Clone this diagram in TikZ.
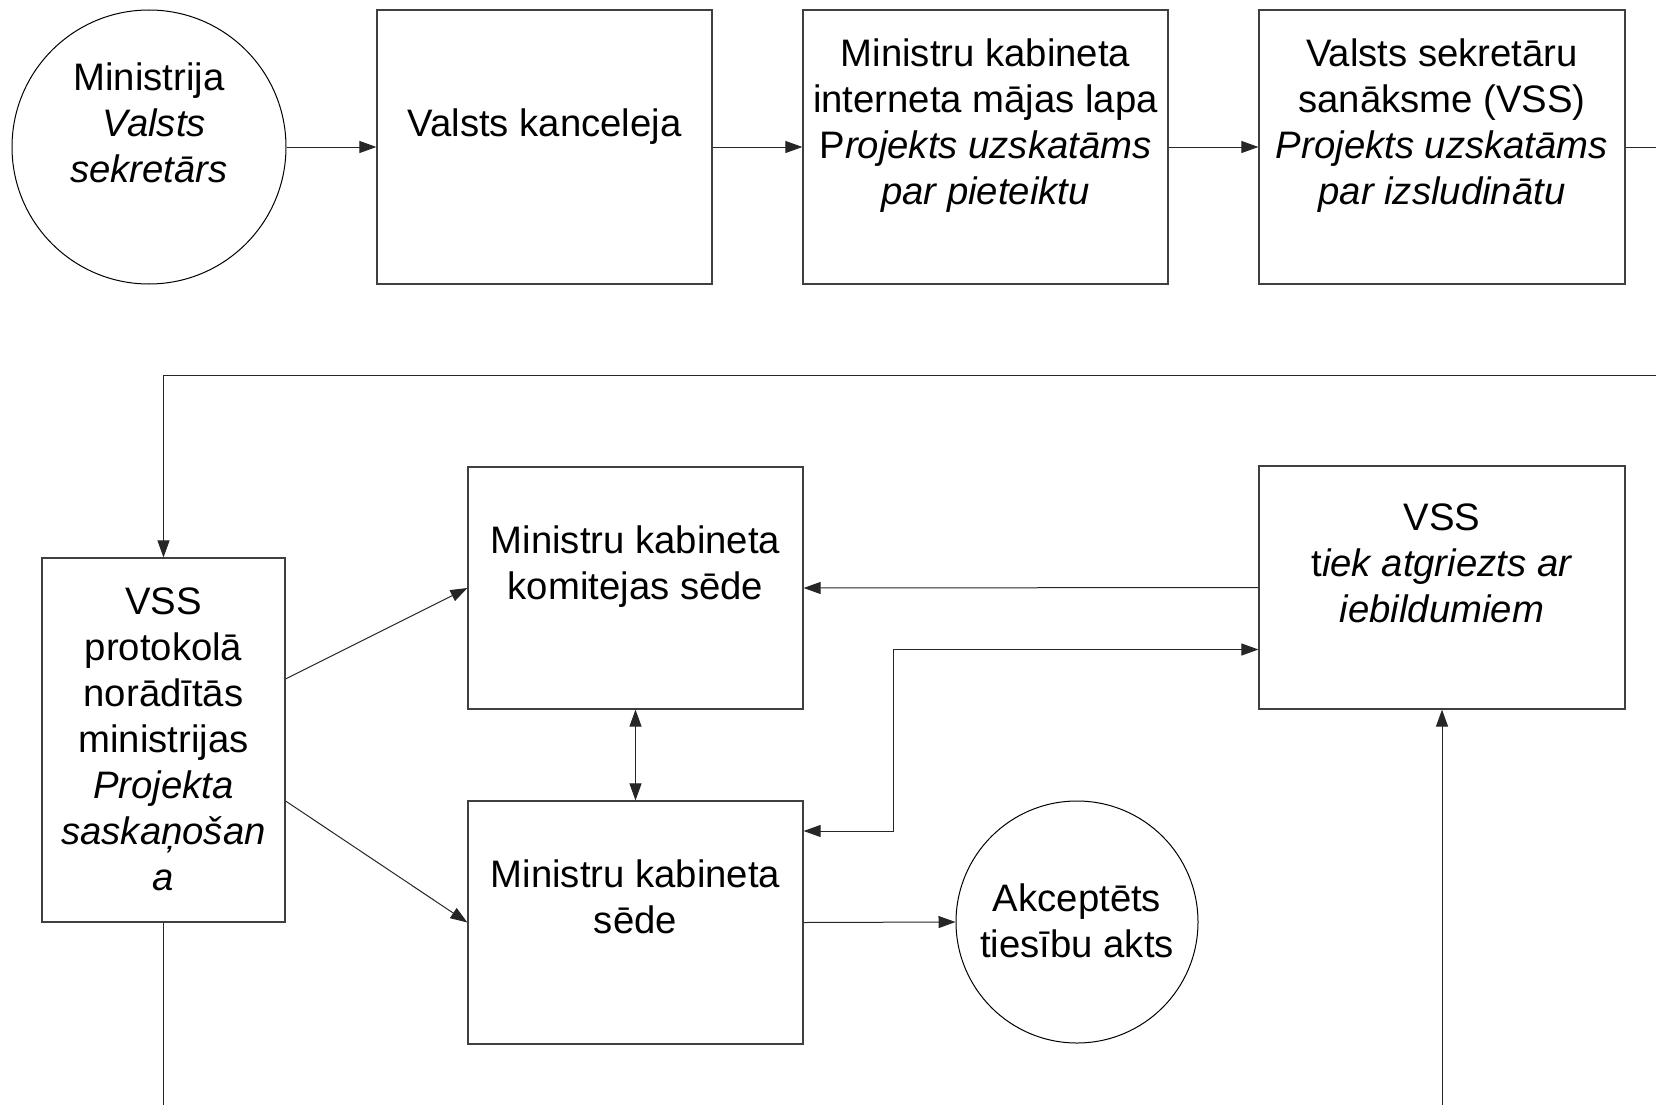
\documentclass[tikz,border=0pt]{standalone}
\usepackage{fontspec}
\setmainfont{Liberation Sans}
\usetikzlibrary{arrows.meta,calc}
\begin{document}
\begin{tikzpicture}[x=1pt,y=-1pt,
  boxnode/.style={draw=black!75, line width=1.2pt, rectangle, inner sep=0pt},
  circnode/.style={draw=black, line width=1pt, circle, inner sep=0pt},
  txt/.style={align=center, font=\fontsize{38.3}{46}\selectfont, inner sep=0pt},
  conn/.style={draw=black!85, line width=1pt},
  arr/.style={conn, -{Triangle[length=17pt,width=12pt]}},
  darr/.style={conn, {Triangle[length=17pt,width=12pt]}-{Triangle[length=17pt,width=12pt]}},
]
\useasboundingbox (0,0) rectangle (1656,1105);
\fill[white] (0,0) rectangle (1656,1105);

% shapes
\node[circnode, minimum size=274pt] (c1) at (149,147) {};
\node[boxnode, minimum width=335pt, minimum height=274pt] (b2) at (544.5,147) {};
\node[boxnode, minimum width=365pt, minimum height=274pt] (b3) at (985.5,147) {};
\node[boxnode, minimum width=366pt, minimum height=274pt] (b4) at (1442,147) {};
\node[boxnode, minimum width=243pt, minimum height=364pt] (b5) at (163.5,740) {};
\node[boxnode, minimum width=335pt, minimum height=242pt] (b6) at (635.5,588) {};
\node[boxnode, minimum width=335pt, minimum height=243pt] (b7) at (635.5,922.5) {};
\node[circnode, minimum size=242pt] (c8) at (1077,922) {};
\node[boxnode, minimum width=366pt, minimum height=243pt] (b9) at (1442,587.5) {};

% texts
\node[txt] (t1) at ([yshift=24.5pt]c1.center) {Ministrija\\\hspace*{0.28em}\textit{Valsts}\\\textit{sekretārs}};
\node[txt] (t2) at ([yshift=20pt]b2.center) {Valsts kanceleja};
\node[txt] (t3) at ([yshift=21pt]b3.center) {Ministru kabineta\\interneta mājas lapa\\P\textit{rojekts uzskatāms}\\\textit{par pieteiktu}};
\node[txt] (t4) at ([yshift=21pt]b4.center) {Valsts sekretāru\\sanāksme (VSS)\\\textit{Projekts uzskatāms}\\\textit{par izsludinātu}};
\node[txt] (t5) at ([yshift=1pt]b5.center) {VSS\\protokolā\\norādītās\\ministrijas\\\textit{Projekta}\\\textit{saskaņošan}\\\textit{a}};
\node[txt] (t6) at ([yshift=21pt]b6.center) {Ministru kabineta\\komitejas sēde};
\node[txt] (t7) at ([yshift=25.5pt]b7.center) {Ministru kabineta\\sēde};
\node[txt] (t8) at ([yshift=1.5pt]c8.center) {Akceptēts\\tiesību akts};
\node[txt] (t9) at ([yshift=24.5pt]b9.center) {VSS\\t\textit{iek atgriezts ar}\\\textit{iebildumiem}};

% free ends
\coordinate (r1) at (1656,147);
\coordinate (r2) at (1656,375);
\coordinate (bot) at (0,1105);

% connectors
\draw[arr] (c1.east) -- (b2.west);
\draw[arr] (b2.east) -- (b3.west);
\draw[arr] (b3.east) -- (b4.west);
\draw[conn] (b4.east) -- (r1);
\draw[arr] (r2) -| (b5.north);
\draw[conn] (b5.south) -- (b5.south |- bot);
\draw[arr] ([yshift=61pt]b5.east) -- (b6.west);
\draw[arr] ([yshift=-61pt]b5.east) -- (b7.west);
\draw[darr] (b6.south) -- (b7.north);
\draw[arr] (b9.west) -- (b6.east);
\draw[darr] ([yshift=-62pt]b9.west) -- ++(-365,0) |- ([yshift=91.5pt]b7.east);
\draw[arr] (b7.east) -- (c8.west);
\draw[arr] (b9.south |- bot) -- (b9.south);
\end{tikzpicture}
\end{document}
